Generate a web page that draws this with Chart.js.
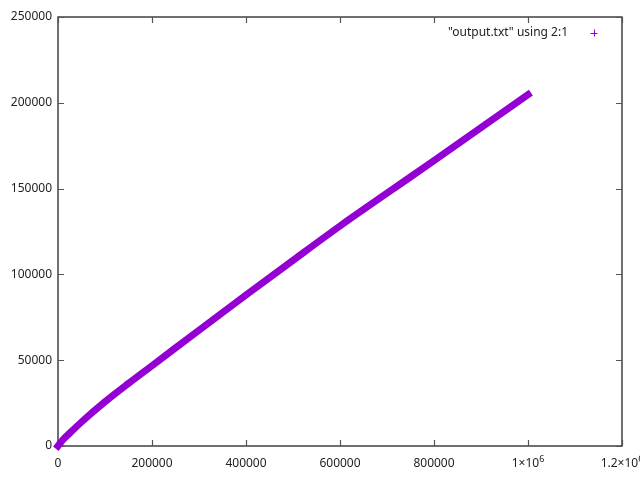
<!DOCTYPE html>
<html lang="en-US">
  <head>
    <meta charset="utf-8" />
    <title>output.txt using 2:1</title>
    <script src="https://cdn.jsdelivr.net/npm/chart.js@4/dist/chart.umd.js"></script>
    <style>
      html, body { margin: 0; padding: 0; background: #fff; }
      canvas { display: block; }
    </style>
  </head>
  <body>
    <canvas id="chart0" width="640" height="480"></canvas>
  </body>

  <script>
    // values (column 2 on x, column 1 on y)
    const xValues = [0, 10000, 25000, 50000, 100000, 150000, 200000, 300000, 400000, 500000, 600000, 700000, 800000, 900000, 1000000]
    const yValues = [0, 3500, 7500, 14000, 25800, 36500, 46800, 67500, 88000, 108200, 128200, 147300, 166300, 185500, 204800]

    const xTicks = [0, 200000, 400000, 600000, 800000, 1000000, 1200000]
    const xTickLabels = [["0"], ["200000"], ["400000"], ["600000"], ["800000"], ["1×10", "6"], ["1.2×10", "6"]]
    const yTicks = [0, 50000, 100000, 150000, 200000, 250000]
    const yTickLabels = ["0", "50000", "100000", "150000", "200000", "250000"]

    const legendLabel = '"output.txt" using 2:1'
    const color = "#9400d3"
    const font = "Noto Sans, DejaVu Sans, sans-serif"

    // gnuplot style frame: box, mirrored inward ticks, labels
    const gnuFrame = {
      id: "gnuFrame",
      beforeDatasetsDraw(chart) {
        const { ctx, chartArea: a } = chart
        const xs = chart.scales.x, ys = chart.scales.y
        const tick = 6
        ctx.save()
        ctx.strokeStyle = "#333"
        ctx.lineWidth = 1.4
        ctx.strokeRect(a.left, a.top, a.right - a.left, a.bottom - a.top)

        ctx.lineWidth = 1.2
        ctx.strokeStyle = "#555"
        ctx.beginPath()
        xTicks.forEach(v => {
          const px = Math.round(xs.getPixelForValue(v)) + 0.5
          ctx.moveTo(px, a.bottom); ctx.lineTo(px, a.bottom - tick)
          ctx.moveTo(px, a.top); ctx.lineTo(px, a.top + tick)
        })
        yTicks.forEach(v => {
          const py = Math.round(ys.getPixelForValue(v)) + 0.5
          ctx.moveTo(a.left, py); ctx.lineTo(a.left + tick, py)
          ctx.moveTo(a.right, py); ctx.lineTo(a.right - tick, py)
        })
        ctx.stroke()

        ctx.fillStyle = "#222"
        ctx.font = "12px " + font
        ctx.textBaseline = "middle"
        ctx.textAlign = "right"
        yTicks.forEach((v, i) => {
          ctx.fillText(yTickLabels[i], a.left - 6, ys.getPixelForValue(v))
        })

        ctx.textAlign = "left"
        xTicks.forEach((v, i) => {
          const [base, sup] = xTickLabels[i]
          ctx.font = "12px " + font
          const wb = ctx.measureText(base).width
          ctx.font = "9px " + font
          const ws = sup ? ctx.measureText(sup).width : 0
          const x0 = xs.getPixelForValue(v) - (wb + ws) / 2
          ctx.font = "12px " + font
          ctx.fillText(base, x0, a.bottom + 18)
          if (sup) {
            ctx.font = "9px " + font
            ctx.fillText(sup, x0 + wb, a.bottom + 13)
          }
        })
        ctx.restore()
      },
      afterDraw(chart) {
        const { ctx, chartArea: a } = chart
        ctx.save()
        ctx.font = "12px " + font
        ctx.fillStyle = "#222"
        ctx.textAlign = "right"
        ctx.textBaseline = "middle"
        const ly = a.top + 16
        ctx.fillText(legendLabel, a.right - 54, ly)
        const cx = a.right - 28
        ctx.strokeStyle = color
        ctx.lineWidth = 1
        ctx.beginPath()
        ctx.moveTo(cx - 3.5, ly + 0.5); ctx.lineTo(cx + 3.5, ly + 0.5)
        ctx.moveTo(cx + 0.5, ly - 3.5); ctx.lineTo(cx + 0.5, ly + 3.5)
        ctx.stroke()
        ctx.restore()
      },
    }

    var chart0 = new Chart(document.getElementById("chart0").getContext("2d"), {
      type: "scatter",
      data: {
        datasets: [
          {
            label: legendLabel,
            data: xValues.map((x, i) => ({ x: x, y: yValues[i] })),
            showLine: true,
            borderColor: color,
            backgroundColor: color,
            borderWidth: 7,
            borderCapStyle: "square",
            pointRadius: 0,
            cubicInterpolationMode: "monotone",
            clip: false,
          },
        ],
      },
      options: {
        responsive: false,
        animation: false,
        layout: { padding: { left: 58, right: 18, top: 17, bottom: 34 } },
        plugins: {
          legend: { display: false },
          tooltip: { enabled: false },
        },
        scales: {
          x: { type: "linear", display: false, min: 0, max: 1200000 },
          y: { type: "linear", display: false, min: 0, max: 250000 },
        },
      },
      plugins: [gnuFrame],
    })
  </script>
</html>
